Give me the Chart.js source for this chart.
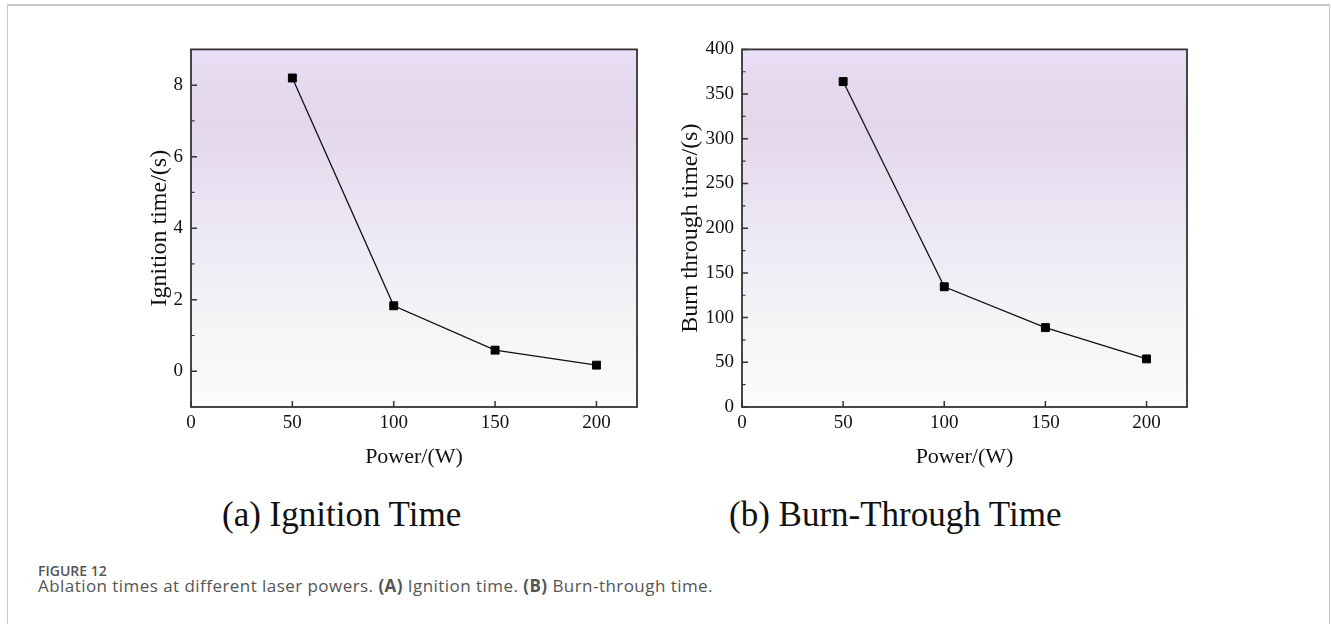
<!DOCTYPE html>
<html>
<head>
<meta charset="utf-8">
<script src="https://cdn.jsdelivr.net/npm/chart.js@4/dist/chart.umd.min.js"></script>
<style>
  body { margin: 0; background: #fff; width: 1331px; height: 624px; overflow: hidden; position: relative; }
  .frame { position: absolute; left: 7px; top: 4px; width: 1321px; height: 700px; border: 1px solid #c9c9c9; border-top-width: 2px; }
  canvas { position: absolute; }
  #chart-ignition { left: 130px; top: 30px; }
  #chart-burn { left: 670px; top: 30px; }
  .sub { position: absolute; font-family: 'Liberation Serif', 'Times New Roman', serif; font-size: 35px; line-height: 40px; color: #111; white-space: nowrap; }
  .cap { position: absolute; left: 38px; font-family: 'Open Sans', sans-serif; color: #555; white-space: nowrap; }
</style>
</head>
<body>
<div class="frame"></div>
<canvas id="chart-ignition" width="530" height="440"></canvas>
<canvas id="chart-burn" width="540" height="440"></canvas>
<div class="sub" style="left:222px; top:495px;">(a) Ignition Time</div>
<div class="sub" style="left:729px; top:495px;">(b) Burn-Through Time</div>
<div class="cap" style="top:561px; font-size:14px; font-weight:600;">FIGURE 12</div>
<div class="cap" style="top:574px; font-size:17px; letter-spacing:0.45px;">Ablation times at different laser powers. <b>(A)</b> Ignition time. <b>(B)</b> Burn-through time.</div>

<script>
// laser power (W)
var power = [50, 100, 150, 200];
var ignitionTime = [8.2, 1.83, 0.59, 0.17];
var burnThroughTime = [364, 134.5, 88.8, 53.8];

var powerTicks = [0, 50, 100, 150, 200];
var ignitionTicks = [0, 2, 4, 6, 8];
var ignitionMinorTicks = [1, 3, 5, 7];
var burnTicks = [0, 50, 100, 150, 200, 250, 300, 350, 400];
var burnMinorTicks = [25, 75, 125, 175, 225, 275, 325, 375];

var serif = "'Liberation Serif', 'Times New Roman', serif";
var ink = '#111';
var axisColor = '#333';

// purple-to-white plot background, plus the closed box around the plot
var plotBox = {
    id: 'plotBox',
    beforeDraw: function(chart) {
        var a = chart.chartArea, ctx = chart.ctx;
        var g = ctx.createLinearGradient(0, a.top, 0, a.bottom);
        g.addColorStop(0, '#eadff8');
        g.addColorStop(0.07, '#e6daf0');
        g.addColorStop(0.22, '#e4d7ec');
        g.addColorStop(0.45, '#ebe4f3');
        g.addColorStop(0.6, '#eeedf6');
        g.addColorStop(0.75, '#f6f3f6');
        g.addColorStop(1, '#fbfbfc');
        ctx.save();
        ctx.fillStyle = g;
        ctx.fillRect(a.left, a.top, a.right - a.left, a.bottom - a.top);
        ctx.restore();
    },
    afterDraw: function(chart) {
        var a = chart.chartArea, ctx = chart.ctx;
        ctx.save();
        ctx.strokeStyle = axisColor;
        ctx.lineWidth = 1.8;
        ctx.strokeRect(a.left, a.top, a.right - a.left, a.bottom - a.top);
        ctx.restore();
    }
};

// tick marks point into the plot, as in Origin
function innerTicks(yMajor, yMinor) {
    return {
        id: 'innerTicks',
        afterDraw: function(chart) {
            var a = chart.chartArea, ctx = chart.ctx;
            var xs = chart.scales.x, ys = chart.scales.y;
            ctx.save();
            ctx.strokeStyle = axisColor;
            ctx.lineWidth = 1.5;
            ctx.beginPath();
            powerTicks.forEach(function(v) {
                var px = xs.getPixelForValue(v);
                ctx.moveTo(px, a.bottom);
                ctx.lineTo(px, a.bottom - 6);
            });
            yMajor.forEach(function(v) {
                var py = ys.getPixelForValue(v);
                ctx.moveTo(a.left, py);
                ctx.lineTo(a.left + 6, py);
            });
            ctx.stroke();
            ctx.lineWidth = 1.2;
            ctx.beginPath();
            yMinor.forEach(function(v) {
                var py = ys.getPixelForValue(v);
                ctx.moveTo(a.left, py);
                ctx.lineTo(a.left + 3.5, py);
            });
            ctx.stroke();
            ctx.restore();
        }
    };
}

function setTicks(values) {
    return function(axis) {
        axis.ticks = values.map(function(v) { return { value: v }; });
    };
}

function chart(id, values, yMin, yMax, majorTicks, minorTicks, yTitle, yWidth, yTitlePad) {
    var ctx = document.getElementById(id);
    new Chart(ctx, {
        type: 'line',
        data: {
            datasets: [{
                data: power.map(function(p, i) { return { x: p, y: values[i] }; }),
                borderColor: ink,
                borderWidth: 1.3,
                pointStyle: 'rect',
                pointRadius: 5.6,
                pointBackgroundColor: '#000',
                pointBorderColor: '#000',
                pointBorderWidth: 1,
                tension: 0
            }]
        },
        options: {
            responsive: false,
            animation: false,
            layout: { padding: { left: 0, top: 18, right: 23, bottom: 0 } },
            plugins: { legend: { display: false }, tooltip: { enabled: false } },
            scales: {
                x: {
                    type: 'linear',
                    min: 0,
                    max: 220,
                    afterBuildTicks: setTicks(powerTicks),
                    afterFit: function(axis) { axis.height = 63; },
                    grid: { display: false, drawTicks: false },
                    border: { display: false },
                    ticks: { padding: 5, color: ink, font: { family: serif, size: 19 } },
                    title: { display: true, text: 'Power/(W)', color: ink, padding: 0, font: { family: serif, size: 22 } }
                },
                y: {
                    type: 'linear',
                    min: yMin,
                    max: yMax,
                    afterBuildTicks: setTicks(majorTicks),
                    afterFit: function(axis) { axis.width = yWidth; },
                    grid: { display: false, drawTicks: false },
                    border: { display: false },
                    ticks: { padding: 8, color: ink, font: { family: serif, size: 19 } },
                    title: { display: true, text: yTitle, color: ink, padding: { top: yTitlePad, bottom: 0 }, font: { family: serif, size: 24 } }
                }
            }
        },
        plugins: [plotBox, innerTicks(majorTicks, minorTicks)]
    });
}

chart('chart-ignition', ignitionTime, -1, 9, ignitionTicks, ignitionMinorTicks, 'Ignition time/(s)', 61, 15.6);
chart('chart-burn', burnThroughTime, 0, 400, burnTicks, burnMinorTicks, 'Burn through time/(s)', 72, 6.6);
</script>
</body>
</html>
